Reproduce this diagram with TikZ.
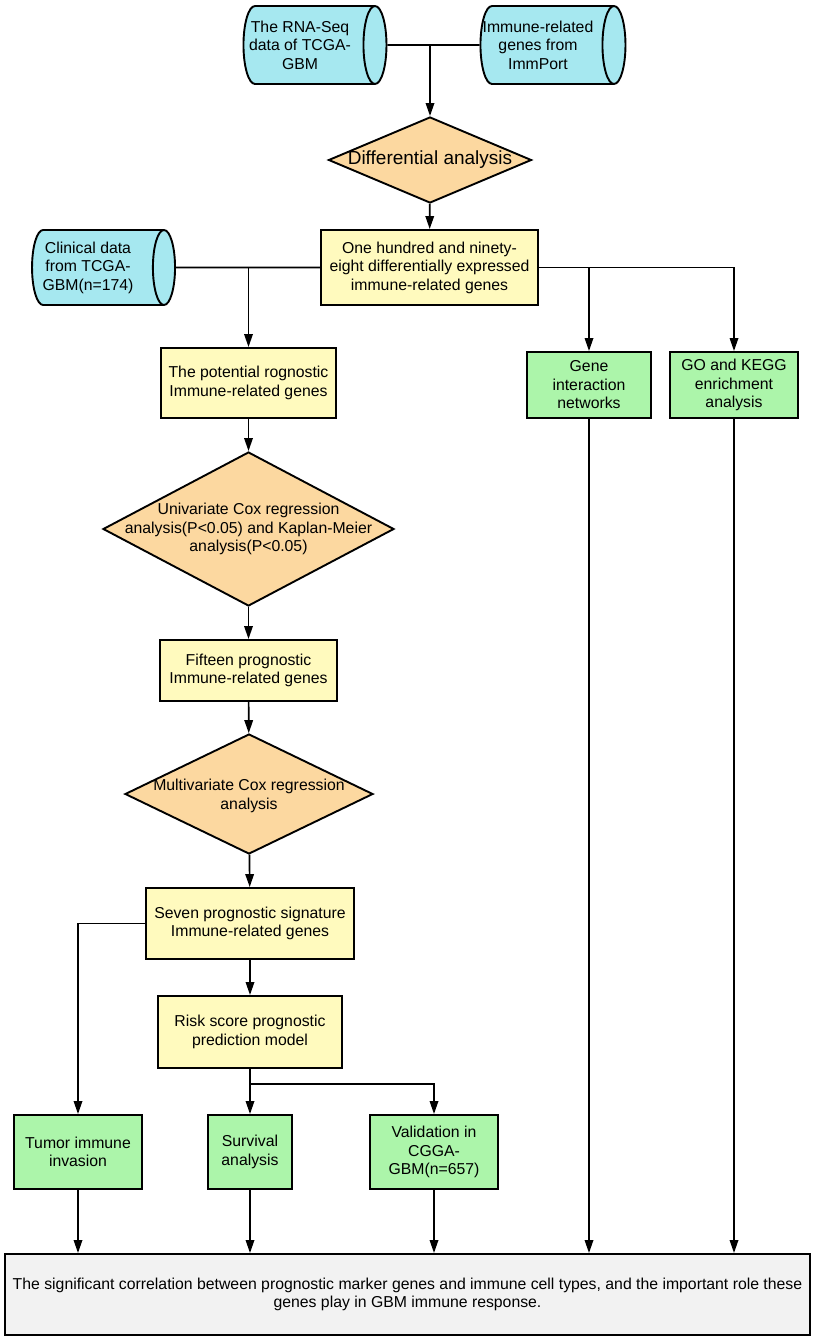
\documentclass[tikz,border=0pt]{standalone}
\usepackage{fontspec}
\setmainfont{Liberation Sans}
\usetikzlibrary{shapes.geometric,arrows.meta}
\definecolor{dbcol}{RGB}{166,232,240}
\definecolor{decol}{RGB}{252,216,160}
\definecolor{stcol}{RGB}{255,250,190}
\definecolor{rscol}{RGB}{172,245,170}
\definecolor{fncol}{RGB}{242,242,242}
\tikzset{
  txt/.style={align=center,inner sep=0pt,font=\fontsize{15.8}{18.5}\selectfont},
  base/.style={draw,line width=1.9pt,txt,inner sep=2pt},
  % cylinder: minimum width is the diameter, minimum height the length
  db/.style={base,cylinder,shape border rotate=0,aspect=0.295,fill=dbcol,minimum width=78pt,minimum height=143pt,inner xsep=0pt,inner ysep=39pt},
  decide/.style={base,diamond,fill=decol,inner sep=0pt},
  stage/.style={base,rectangle,fill=stcol},
  result/.style={base,rectangle,fill=rscol},
}
\begin{document}
\begin{tikzpicture}[x=1pt,y=-1pt,>={Triangle[length=13pt,width=8.5pt]},line width=1.7pt]
  \useasboundingbox (0,0) rectangle (814,1339);
  % data sources
  \node[db,label={[txt,xshift=-3pt]center:{The RNA-Seq\\data of TCGA-\\GBM}}] (rna) at (303,45) {};
  \node[db,minimum height=145pt,label={[txt,xshift=-3pt]center:{Immune-related\\genes from\\ImmPort}}] (imm) at (541,45) {};
  \node[decide,minimum width=203pt,minimum height=86pt,
    label={[txt,font=\fontsize{19}{21}\selectfont]center:{Differential analysis}}] (diff) at (430,160) {};
  \node[stage,minimum width=217pt,minimum height=75pt] (deg) at (429.5,267.5) {One hundred and ninety-\\eight differentially expressed\\immune-related genes};
  \node[db,minimum width=75pt,inner ysep=37.5pt,label={[txt,xshift=-4pt]center:{Clinical data\\from TCGA-\\GBM(n=174)}}] (clin) at (92,267.5) {};
  % left column
  \node[stage,minimum width=175pt,minimum height=70pt] (pot) at (248.5,383) {The potential rognostic\\Immune-related genes};
  \node[decide,minimum width=291pt,minimum height=154pt,
    label={[txt]center:{Univariate Cox regression\\analysis(P<0.05) and Kaplan-Meier\\analysis(P<0.05)}}] (uni) at (248.5,529) {};
  \node[stage,minimum width=177pt,minimum height=61pt] (fif) at (248.5,670.5) {Fifteen prognostic\\Immune-related genes};
  \node[decide,minimum width=248pt,minimum height=120pt,
    label={[txt,yshift=-2pt]center:{Multivariate Cox regression\\analysis}}] (mul) at (249,794) {};
  \node[stage,minimum width=208pt,minimum height=71pt] (sev) at (250,923.5) {Seven prognostic signature\\Immune-related genes};
  \node[stage,minimum width=184pt,minimum height=72pt] (risk) at (250,1032) {Risk score prognostic\\prediction model};
  % results
  \node[result,minimum width=124pt,minimum height=66pt] (gene) at (589,385) {Gene\\interaction\\networks};
  \node[result,minimum width=128pt,minimum height=66pt] (go) at (734,385) {GO and KEGG\\enrichment\\analysis};
  \node[result,minimum width=128pt,minimum height=74pt] (tum) at (78,1152) {Tumor immune\\invasion};
  \node[result,minimum width=84pt,minimum height=74pt] (surv) at (250,1152) {Survival\\analysis};
  \node[result,minimum width=128pt,minimum height=74pt] (val) at (434,1152) {Validation in\\CGGA-\\GBM(n=657)};
  \node[base,rectangle,fill=fncol,minimum width=805pt,minimum height=81pt] (fin) at (407.5,1294.5) {The significant correlation between prognostic marker genes and immune cell types, and the important role these\\genes play in GBM immune response.};
  \coordinate (br) at (250,1084);
  % connectors
  \draw (rna.east) -- (imm.west);
  \draw[->] (diff.north |- rna.east) -- (diff.north);
  \draw[->] (diff) -- (deg);
  \draw (clin.east) -- (deg.west);
  \draw[->] (pot.north |- deg.west) -- (pot);
  \draw[->] (deg.east) -| (go.north);
  \draw[->] (gene.north |- deg.east) -- (gene.north);
  \draw[->] (pot) -- (uni);
  \draw[->] (uni) -- (fif);
  \draw[->] (fif) -- (mul);
  \draw[->] (mul) -- (sev);
  \draw[->] (sev) -- (risk);
  \draw[->] (sev.west) -| (tum.north);
  \draw[->] (risk) -- (surv);
  \draw[->] (br) -| (val.north);
  \foreach \n in {tum,surv,val,gene,go}
    \draw[->] (\n.south) -- (\n.south |- fin.north);
\end{tikzpicture}
\end{document}
